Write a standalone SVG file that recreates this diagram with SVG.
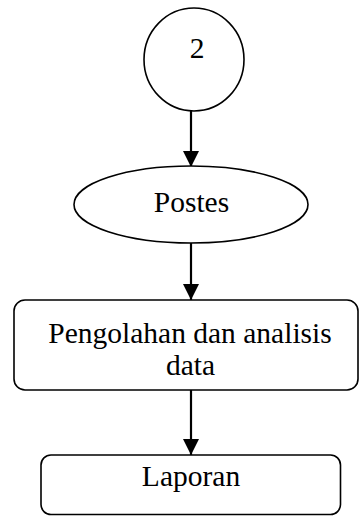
<svg xmlns="http://www.w3.org/2000/svg" width="359" height="516" viewBox="0 0 359 516">
<defs>
<style>
.shape{fill:#fff;stroke:#000;stroke-width:1.6}
.conn{stroke:#000;stroke-width:2.2;fill:none}
.lbl{font-family:"Liberation Serif","Times New Roman",serif;font-size:29.5px;fill:#000;text-anchor:middle}
</style>
<marker id="arr" viewBox="0 0 16 16" refX="16" refY="8" markerWidth="16" markerHeight="16" markerUnits="userSpaceOnUse" orient="auto">
<path d="M0,0 L16,8 L0,16 Z" fill="#000"/>
</marker>
</defs>
<rect width="359" height="516" fill="#fff"/>
<g id="connectors">
<line class="conn" x1="191" y1="111" x2="191" y2="167" marker-end="url(#arr)"/>
<line class="conn" x1="191" y1="243" x2="191" y2="300" marker-end="url(#arr)"/>
<line class="conn" x1="191" y1="390" x2="191" y2="455" marker-end="url(#arr)"/>
</g>
<g id="node-2">
<ellipse class="shape" cx="194" cy="59.5" rx="50" ry="51.5"/>
<text class="lbl" x="197" y="58">2</text>
</g>
<g id="node-postes">
<ellipse class="shape" cx="191" cy="204.5" rx="117" ry="38.5"/>
<text class="lbl" x="191.5" y="212">Postes</text>
</g>
<g id="node-pengolahan">
<rect class="shape" x="14" y="300" width="344" height="90" rx="11"/>
<text class="lbl" x="190" y="343">Pengolahan dan analisis</text>
<text class="lbl" x="190.5" y="375">data</text>
</g>
<g id="node-laporan">
<rect class="shape" x="41" y="455" width="299.5" height="59.5" rx="10"/>
<text class="lbl" x="191" y="486">Laporan</text>
</g>
</svg>
